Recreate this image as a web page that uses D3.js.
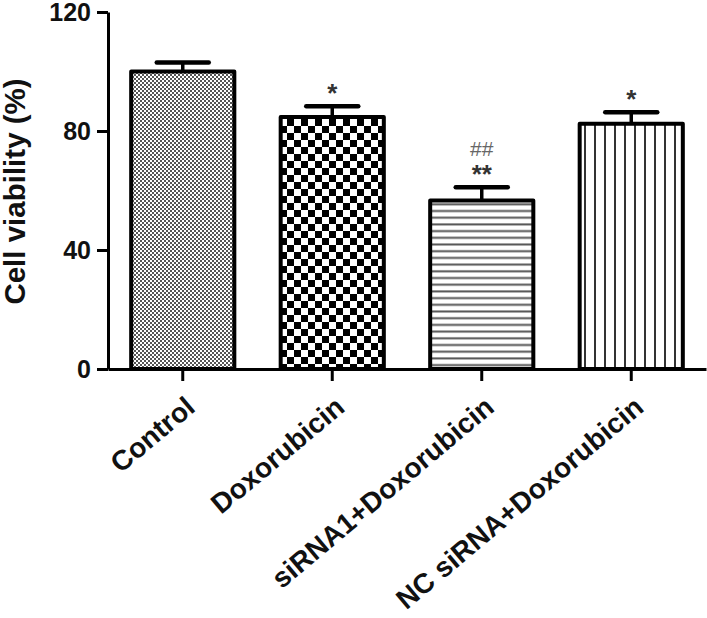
<!DOCTYPE html>
<html><head><meta charset="utf-8">
<script src="https://cdn.jsdelivr.net/npm/d3@7"></script>
<style>
html,body{margin:0;padding:0;background:#fff;}
svg{display:block;font-family:"Liberation Sans",Arial,sans-serif;}
</style></head>
<body>
<svg id="c" width="707" height="618"></svg>
<script>
const categories = ["Control", "Doxorubicin", "siRNA1+Doxorubicin", "NC siRNA+Doxorubicin"];
const means = [100, 84.7, 56.6, 82.4];
const errors = [3, 3.6, 4.5, 3.9];
const starLabels = ["", "*", "**", "*"];
const hashLabels = ["", "", "##", ""];
const yTicks = [0, 40, 80, 120];
const yLabel = "Cell viability (%)";

const svg = d3.select("#c");
const y = d3.scaleLinear().domain([0, 120]).range([369, 12]);
const x = d3.scaleBand().domain(categories).range([108, 706]).paddingInner(0.31).paddingOuter(0.155);

const defs = svg.append("defs");
// pattern 0: fine dots
const p0 = defs.append("pattern").attr("id","pat0").attr("patternUnits","userSpaceOnUse").attr("width",4).attr("height",4);
p0.append("rect").attr("width",4).attr("height",4).attr("fill","#fff");
p0.append("rect").attr("x",0).attr("y",0).attr("width",2).attr("height",2).attr("fill","#555");
p0.append("rect").attr("x",2).attr("y",2).attr("width",2).attr("height",2).attr("fill","#555");
// pattern 1: checker
const p1 = defs.append("pattern").attr("id","pat1").attr("patternUnits","userSpaceOnUse").attr("width",14).attr("height",14);
p1.append("rect").attr("width",14).attr("height",14).attr("fill","#fff");
p1.append("rect").attr("x",0).attr("y",0).attr("width",7).attr("height",7).attr("fill","#000");
p1.append("rect").attr("x",7).attr("y",7).attr("width",7).attr("height",7).attr("fill","#000");
// pattern 2: horizontal lines
const p2 = defs.append("pattern").attr("id","pat2").attr("patternUnits","userSpaceOnUse").attr("width",10).attr("height",6.7);
p2.append("rect").attr("width",10).attr("height",6.7).attr("fill","#fff");
p2.append("line").attr("x1",0).attr("x2",10).attr("y1",3.3).attr("y2",3.3).attr("stroke","#555").attr("stroke-width",2);
// pattern 3: vertical lines
const p3 = defs.append("pattern").attr("id","pat3").attr("patternUnits","userSpaceOnUse").attr("width",10).attr("height",10);
p3.append("rect").attr("width",10).attr("height",10).attr("fill","#fff");
p3.append("line").attr("x1",5).attr("x2",5).attr("y1",0).attr("y2",10).attr("stroke","#333").attr("stroke-width",2);

const data = categories.map((c,i)=>({c, m:means[i], e:errors[i], s:starLabels[i], h:hashLabels[i], i}));

// bars
svg.append("g").selectAll("rect").data(data).join("rect")
  .attr("x", d=>x(d.c)).attr("width", x.bandwidth())
  .attr("y", d=>y(d.m)).attr("height", d=>y(0)-y(d.m))
  .attr("fill", d=>`url(#pat${d.i})`)
  .attr("stroke","#000").attr("stroke-width",4).attr("stroke-linejoin","round");

// error bars
const eb = svg.append("g");
eb.selectAll("line.stem").data(data).join("line").attr("class","stem")
  .attr("x1", d=>x(d.c)+x.bandwidth()/2).attr("x2", d=>x(d.c)+x.bandwidth()/2)
  .attr("y1", d=>y(d.m)).attr("y2", d=>y(d.m+d.e))
  .attr("stroke","#000").attr("stroke-width",3.5);
eb.selectAll("line.cap").data(data).join("line").attr("class","cap")
  .attr("x1", d=>x(d.c)+x.bandwidth()/2-26).attr("x2", d=>x(d.c)+x.bandwidth()/2+26)
  .attr("y1", d=>y(d.m+d.e)).attr("y2", d=>y(d.m+d.e))
  .attr("stroke","#000").attr("stroke-width",4.5).attr("stroke-linecap","round");

// significance marks
svg.append("g").selectAll("text").data(data.filter(d=>d.s)).join("text")
  .attr("x", d=>x(d.c)+x.bandwidth()/2).attr("y", d=>y(d.m+d.e)-19+15)
  .attr("text-anchor","middle").attr("font-size",26).attr("font-weight","bold").attr("fill","#333")
  .text(d=>d.s);
svg.append("g").selectAll("text").data(data.filter(d=>d.h)).join("text")
  .attr("x", d=>x(d.c)+x.bandwidth()/2).attr("y", d=>y(d.m+d.e)-38+7)
  .attr("text-anchor","middle").attr("font-size",21).attr("fill","#666")
  .text(d=>d.h);

// y axis
const ya = svg.append("g").attr("transform","translate(108,0)")
  .call(d3.axisLeft(y).tickValues(yTicks).tickSize(11).tickSizeOuter(0).tickPadding(6));
ya.select(".domain").attr("stroke","#000").attr("stroke-width",3);
ya.selectAll(".tick line").attr("stroke","#000").attr("stroke-width",3);
ya.selectAll(".tick text").attr("font-size",25).attr("font-weight","bold").attr("fill","#111")
  .attr("font-family","'Liberation Sans',Arial,sans-serif");

// x axis
const xa = svg.append("g").attr("transform","translate(0,369)")
  .call(d3.axisBottom(x).tickSize(12).tickSizeOuter(0));
xa.select(".domain").attr("stroke","#000").attr("stroke-width",3);
xa.selectAll(".tick line").attr("stroke","#000").attr("stroke-width",3);
xa.selectAll(".tick text").remove();
svg.append("g").selectAll("text").data(categories).join("text")
  .attr("transform", d=>`translate(${x(d)+x.bandwidth()/2+14},410) rotate(-40)`)
  .attr("text-anchor","end").attr("font-size",28).attr("font-weight","bold").attr("fill","#111")
  .text(d=>d);

// y label
svg.append("text").attr("transform","translate(25,191.5) rotate(-90)")
  .attr("text-anchor","middle").attr("font-size",29.5).attr("font-weight","bold").attr("fill","#111")
  .text(yLabel);
</script>
</body></html>
